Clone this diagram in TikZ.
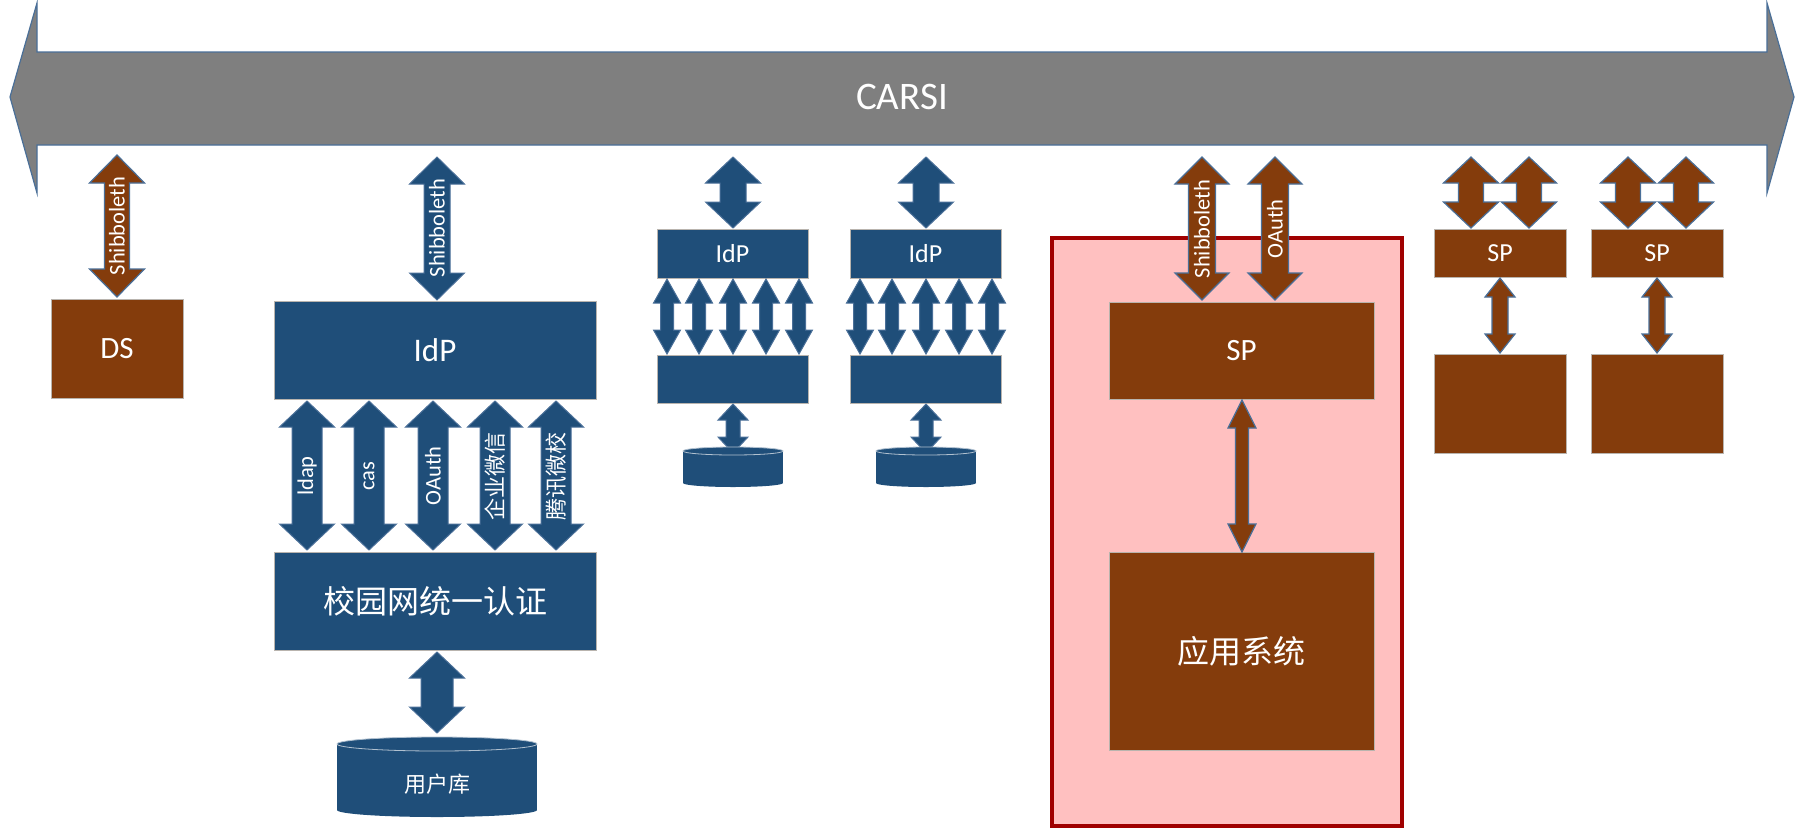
\documentclass[tikz,border=0pt]{standalone}
\usepackage{fontspec}
\setmainfont{Carlito}
\newfontfamily\cjk{Noto Sans CJK SC}
\definecolor{bluefill}{HTML}{1F4E79}
\definecolor{brownfill}{HTML}{843C0C}
\definecolor{grayfill}{HTML}{7F7F7F}
\definecolor{arrowedge}{HTML}{4A6F98}
\definecolor{pinkfill}{HTML}{FFC0C0}
\definecolor{rededge}{HTML}{A00000}
\definecolor{boxedge}{HTML}{B9B4AE}
\tikzset{
  bluearrow/.style={fill=bluefill,draw=arrowedge,line width=1pt,line join=miter},
  brownarrow/.style={fill=brownfill,draw=arrowedge,line width=1.2pt,line join=miter},
  bluebox/.style={fill=bluefill,draw=boxedge,line width=0.8pt,text=white,inner sep=0pt},
  brownbox/.style={fill=brownfill,draw=boxedge,line width=0.8pt,text=white,inner sep=0pt},
  vlabel/.style={rotate=90,text=white,inner sep=0pt,font=\fontsize{22.5}{24}\selectfont},
}
% style, cx, ytop, ybot, half head width, half shaft width, head length
\newcommand\dbarrow[7]{%
  \draw[#1] (#2,#3) -- ({#2+#5},{#3+#7}) -- ({#2+#6},{#3+#7}) -- ({#2+#6},{#4-#7})
    -- ({#2+#5},{#4-#7}) -- (#2,#4) -- ({#2-#5},{#4-#7}) -- ({#2-#6},{#4-#7})
    -- ({#2-#6},{#3+#7}) -- ({#2-#5},{#3+#7}) -- cycle;}
% cx, ytop, ybot, rx, ry, name, text
\newcommand\dbcyl[7]{%
  \fill[bluefill] (#1,#3) ellipse [x radius=#4pt, y radius=#5pt];
  \fill[bluefill] ({#1-#4},#2) rectangle ({#1+#4},#3);
  \fill[bluefill] (#1,#2) ellipse [x radius=#4pt, y radius=#5pt];
  \draw[white!65!bluefill,line width=0.8pt] (#1,#2) ellipse [x radius=#4pt, y radius=#5pt];
  \node[text=white,inner sep=0pt,font=\cjk\fontsize{22}{24}\selectfont] (#6) at (#1,{(#2+#3)/2+#5}) {#7};}
\begin{document}
\begin{tikzpicture}[x=1pt,y=-1pt]
\useasboundingbox (0,0) rectangle (1803,828);
% CARSI bus
\draw[fill=grayfill,draw=arrowedge,line width=1.2pt,line join=miter]
  (10,97) -- (37,3) -- (37,52) -- (1767,52) -- (1767,3) -- (1794,97)
  -- (1767,193) -- (1767,145) -- (37,145) -- (37,193) -- cycle;
\node[text=white,font=\fontsize{39}{40}\selectfont] (carsi) at (902,97) {CARSI};

% DS
\node[brownbox,minimum width=132pt,minimum height=99pt,font=\fontsize{31}{32}\selectfont] (ds) at (117,348.5) {DS};
\dbarrow{brownarrow}{117}{155}{297}{27.5}{12.5}{28}
\node[vlabel] (lds) at (117,226) {Shibboleth};

% main IdP
\node[bluebox,minimum width=322pt,minimum height=98pt,font=\fontsize{33}{35}\selectfont] (idp) at (435,350) {IdP};
\dbarrow{bluearrow}{437}{157}{300}{27.5}{13}{27}
\node[vlabel] (lidp) at (437,228) {Shibboleth};
\node[bluebox,minimum width=322pt,minimum height=98pt,font=\cjk\fontsize{32}{34}\selectfont] (campus) at (435,601) {校园网统一认证};
\dbarrow{bluearrow}{307}{401}{550}{27.5}{15}{26}
\dbarrow{bluearrow}{369}{401}{550}{27.5}{15}{26}
\dbarrow{bluearrow}{433}{401}{550}{27.5}{15}{26}
\dbarrow{bluearrow}{495}{401}{550}{27.5}{15}{26}
\dbarrow{bluearrow}{556}{401}{550}{27.5}{15}{26}
\node[vlabel] (lldap) at (307,476) {ldap};
\node[vlabel] (lcas) at (369,476) {cas};
\node[vlabel] (loauth) at (433,476) {OAuth};
\node[vlabel,font=\cjk\fontsize{22}{24}\selectfont] (lqy) at (495,476) {企业微信};
\node[vlabel,font=\cjk\fontsize{22}{24}\selectfont] (ltx) at (556,476) {腾讯微校};
\dbarrow{bluearrow}{437}{652}{733}{27.5}{16}{26}
\dbcyl{437}{744}{810}{100}{7}{users}{用户库}

% IdP 1 and 2
\foreach \dx/\nm in {0/a,193/b}{
  \node[bluebox,minimum width=151pt,minimum height=49pt,font=\fontsize{26}{28}\selectfont] (idp\nm) at ({732.5+\dx},253.5) {IdP};
  \node[bluebox,minimum width=151pt,minimum height=48pt] (back\nm) at ({732.5+\dx},379) {};
  \dbarrow{bluearrow}{733+\dx}{157}{228}{27.5}{13}{26}
  \foreach \ax in {667,699,733,766,799}{
    \dbarrow{bluearrow}{\ax+\dx}{279}{354}{13.5}{6.5}{24}
  }
  \dbarrow{bluearrow}{733+\dx}{404}{453}{15}{7}{16}
  \dbcyl{733+\dx}{451}{483}{50}{4}{db\nm}{}
}

% pink application domain
\draw[fill=pinkfill,draw=rededge,line width=3.5pt] (1052,238) rectangle (1402,826);
\node[brownbox,minimum width=265pt,minimum height=97pt,font=\fontsize{31}{33}\selectfont] (sp) at (1241.5,350.5) {SP};
\node[brownbox,minimum width=265pt,minimum height=198pt,font=\cjk\fontsize{32}{34}\selectfont] (app) at (1241.5,651) {应用系统};
\dbarrow{brownarrow}{1202}{157}{300}{27}{13.5}{27}
\dbarrow{brownarrow}{1275}{157}{300}{27}{13.5}{27}
\node[vlabel] (lsh) at (1202,229) {Shibboleth};
\node[vlabel] (lsoa) at (1275,229) {OAuth};
\dbarrow{brownarrow}{1242}{400}{552}{14}{6.5}{28}

% right SPs
\foreach \cx/\nm in {1500/a,1657/b}{
  \node[brownbox,minimum width=132pt,minimum height=48pt,font=\fontsize{26}{28}\selectfont] (sp\nm) at (\cx,253) {SP};
  \node[brownbox,minimum width=132pt,minimum height=99pt] (sys\nm) at (\cx,403.5) {};
  \dbarrow{brownarrow}{\cx-29}{157}{228}{27.5}{12.5}{26}
  \dbarrow{brownarrow}{\cx+29}{157}{228}{27.5}{12.5}{26}
  \dbarrow{brownarrow}{\cx}{278}{353}{15}{8}{19}
}
\end{tikzpicture}
\end{document}
